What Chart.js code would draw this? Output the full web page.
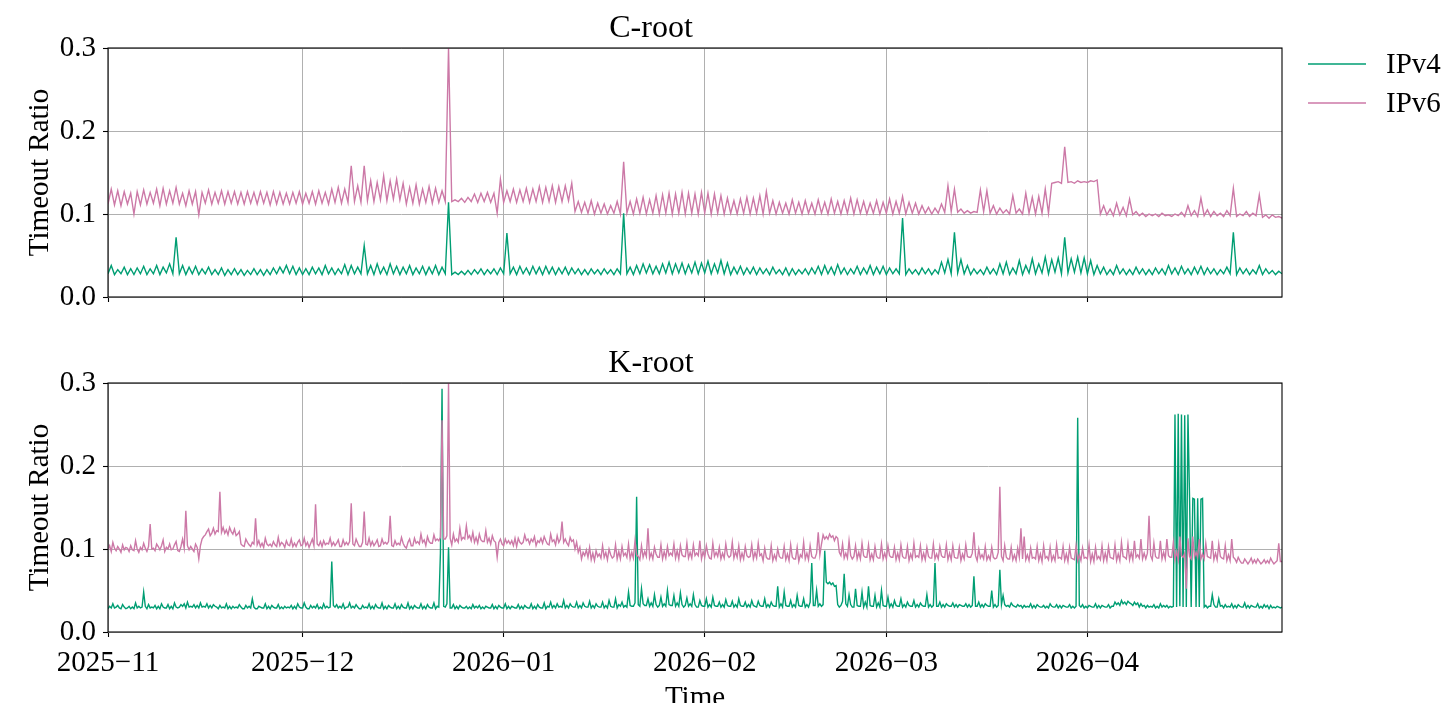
<!DOCTYPE html>
<html>
<head>
<meta charset="utf-8">
<script src="https://cdn.jsdelivr.net/npm/chart.js@4.4.1/dist/chart.umd.min.js"></script>
<style>
  html, body { margin: 0; padding: 0; background: #fff; overflow: hidden; }
  #wrap { position: relative; width: 1452px; height: 703px; }
  canvas { position: absolute; left: 0; }
  #cChart { top: 0; }
  #kChart { top: 335px; }
</style>
</head>
<body>
<div id="wrap">
  <canvas id="cChart" width="1452" height="322"></canvas>
  <canvas id="kChart" width="1452" height="381"></canvas>
</div>
<script>
// ==========================================
// DATA (timeout ratio x1000, sampled from 2025-11-01)
// ==========================================

const cSamplesPerDay = 2;
const kSamplesPerDay = 4;
const monthStarts = [0, 30, 61, 92, 120, 151];
const monthLabels = ['2025\u221211', '2025\u221212', '2026\u221201', '2026\u221202', '2026\u221203', '2026\u221204'];
const yTicks = [0, 0.1, 0.2, 0.3];
const seriesNames = ['IPv4', 'IPv6'];

// C-root, 2 samples a day
const cRootV4 = [
  28,38,27,33,28,36,27,34,27,35,28,37,27,34,28,38,27,36,29,40,
  28,72,28,38,27,36,28,37,27,34,28,36,27,33,27,35,26,33,27,34,
  27,33,26,32,27,34,27,33,26,33,27,35,28,36,29,38,28,37,27,35,
  27,34,27,36,28,35,27,38,28,35,27,34,28,39,27,38,28,36,28,62,
  28,38,27,40,28,36,27,40,28,37,27,36,28,38,27,35,28,37,27,36,
  28,38,27,36,28,114,27,30,27,31,27,32,27,33,28,34,27,33,28,34,
  27,35,28,77,28,36,27,37,28,35,27,37,28,36,27,37,28,36,27,35,
  28,36,27,35,28,34,27,33,27,34,28,33,27,34,28,33,27,34,28,101,
  28,36,27,38,28,40,29,39,28,37,28,40,29,42,28,40,29,41,28,39,
  29,42,28,41,29,43,28,40,29,44,28,41,27,36,28,37,27,35,28,36,
  27,35,28,34,27,36,28,33,27,35,26,34,27,33,28,34,27,35,28,37,
  27,38,28,36,27,39,28,35,27,34,28,37,27,35,28,38,27,36,28,37,
  27,35,28,34,28,95,27,34,28,33,27,35,28,34,27,33,28,42,29,45,
  28,78,29,45,28,38,27,34,28,33,27,36,28,34,27,40,28,42,27,35,
  28,44,27,38,29,46,28,40,29,48,28,45,30,47,28,72,29,46,30,48,
  29,47,28,44,27,38,28,36,27,33,27,38,28,34,27,33,27,36,28,34,
  27,33,27,35,28,34,27,38,28,35,27,37,28,34,27,36,28,37,27,35,
  28,34,27,33,28,36,28,78,27,35,28,34,27,33,28,38,27,34,28,32,27,31,28
];

const cRootV6 = [
  112,130,111,128,110,127,112,125,100,127,111,129,112,126,113,130,110,131,112,128,
  113,132,112,125,110,128,112,127,99,126,113,129,112,126,113,128,112,127,113,127,
  112,126,112,127,113,126,112,127,113,126,111,127,112,126,112,125,112,126,113,127,
  112,125,113,127,112,128,113,126,112,130,114,132,113,130,114,158,115,134,114,158,
  116,140,115,138,117,146,116,140,118,142,117,137,112,132,113,135,112,130,114,133,
  113,131,114,128,115,300,115,117,115,119,114,120,115,124,114,125,115,126,114,125,
  101,142,114,128,115,130,114,129,115,131,114,130,115,133,114,132,115,134,114,133,
  115,134,116,137,103,115,102,114,101,116,100,113,101,112,100,110,101,115,100,163,
  101,115,100,118,101,120,100,117,101,122,100,123,101,125,100,124,101,126,100,125,
  101,124,100,126,101,125,100,124,101,122,100,119,101,116,100,118,101,120,100,119,
  101,122,100,127,101,116,100,114,101,113,100,117,101,114,100,116,101,113,100,117,
  101,114,100,118,101,115,100,116,101,119,100,117,101,115,100,113,101,116,100,114,
  101,118,100,115,101,121,100,114,101,113,100,110,101,108,100,107,101,112,102,134,
  103,130,102,106,101,104,101,103,102,129,103,128,101,110,100,107,101,105,100,122,
  101,106,100,125,101,120,100,121,101,130,101,137,138,139,137,181,138,139,137,140,
  138,139,138,140,139,141,100,110,99,106,98,113,99,108,98,118,99,103,98,101,
  97,100,98,100,97,101,98,99,97,100,98,102,97,110,98,104,97,119,98,105,
  97,103,98,101,97,104,98,131,97,100,98,103,97,101,98,123,96,99,95,99,96,97,95
];

// K-root, 4 samples a day
const kRootV4 = [
  28,31,29,34, 29,30,32,29, 28,33,30,28, 29,31,28,30, 28,35,29,31,
  29,30,48,31, 28,33,29,30, 29,32,28,31, 28,34,30,29, 29,33,28,31,
  28,35,30,29, 30,33,31,34, 29,36,30,31, 30,33,29,32, 29,35,30,31,
  30,34,29,32, 29,33,31,30, 28,32,29,30, 29,34,28,31, 28,31,29,30,
  29,33,30,28, 28,32,29,31, 29,40,30,28, 28,31,30,29, 29,34,28,31,
  28,32,30,29, 29,33,28,30, 28,31,29,30, 29,32,28,31, 28,34,30,29,
  29,35,30,28, 28,32,29,31, 29,33,28,30, 28,34,29,31, 29,30,85,32,
  30,33,29,31, 29,34,28,30, 30,35,29,31, 29,33,30,28, 28,32,29,30,
  29,34,28,31, 28,33,30,29, 29,35,28,31, 28,32,30,29, 29,34,28,31,
  28,33,30,29, 29,35,28,31, 28,32,30,29, 29,34,28,31, 28,33,30,29,
  29,35,28,31, 30,95,293,31, 30,34,102,29, 29,33,28,31, 28,32,30,29,
  29,31,28,30, 28,33,29,31, 29,32,28,30, 28,31,30,29, 29,33,28,31,
  28,32,30,29, 29,34,28,31, 28,31,30,29, 29,33,28,31, 28,32,30,29,
  29,34,28,31, 28,33,30,29, 29,35,28,31, 30,36,29,32, 29,34,30,31,
  30,38,29,32, 29,34,31,30, 30,36,29,32, 29,35,31,30, 30,37,29,32,
  29,34,31,30, 30,36,29,32, 29,38,31,30, 30,40,29,33, 31,36,30,32,
  30,48,32,31, 31,35,163,33, 31,52,34,32, 32,40,31,35, 31,45,33,30,
  32,42,31,34, 31,50,33,32, 32,44,31,35, 31,47,33,30, 32,41,31,34,
  31,45,33,30, 30,38,32,31, 31,40,30,33, 30,42,32,31, 31,36,30,33,
  30,39,32,31, 31,37,30,33, 30,40,32,31, 31,36,30,33, 30,38,32,31,
  30,37,32,31, 31,40,30,33, 30,36,32,31, 31,55,30,34, 30,48,32,31,
  31,38,30,33, 30,44,32,31, 31,40,30,33, 30,36,83,32, 32,50,31,34,
  31,33,98,60, 58,60,57,59, 55,56,33,30, 32,37,70,34, 31,45,33,30,
  30,52,32,31, 31,48,30,36, 30,55,32,31, 31,44,30,35, 30,50,32,31,
  31,42,30,34, 30,38,32,31, 31,40,30,33, 30,36,32,31, 31,38,30,33,
  30,35,32,31, 31,45,30,33, 30,32,83,31, 31,36,30,33, 30,34,32,31,
  31,35,30,33, 30,33,32,31, 31,34,30,33, 30,32,67,31, 31,36,30,33,
  30,34,32,31, 31,50,30,33, 30,32,75,33, 44,33,31,32, 30,35,32,31,
  30,33,31,32, 29,32,30,31, 30,34,29,32, 29,33,31,30, 30,32,29,31,
  29,34,31,30, 30,33,29,32, 29,32,31,30, 30,33,29,31, 29,31,258,32,
  30,33,29,31, 29,32,31,30, 30,34,29,32, 29,32,31,30, 30,33,29,31,
  31,36,33,35, 32,38,34,36, 33,37,35,34, 32,36,33,35, 30,34,31,32,
  29,32,30,31, 30,33,29,31, 29,34,30,32, 30,32,29,31, 30,31,262,30,
  263,31,262,30, 261,30,262,161, 30,161,160,30, 161,30,160,161, 30,32,29,31,
  31,45,33,30, 30,40,31,32, 29,33,30,31, 30,34,29,32, 29,33,31,30,
  30,35,29,32, 29,32,31,30, 30,34,29,31, 29,33,30,32, 28,32,29,30,
  29,31,30,29, 30
];

const kRootV6 = [
  99,104,97,108, 101,98,103,100, 96,105,99,102, 101,97,104,99, 98,110,100,96,
  102,99,107,101, 97,103,130,100, 101,98,106,103, 99,104,111,97, 102,100,106,99,
  100,105,109,98, 97,103,112,101, 146,104,99,103, 100,97,106,102, 88,104,112,115,
  117,121,124,116, 119,125,118,122, 121,169,120,126, 119,123,117,126, 121,118,124,116,
  118,121,106,104, 103,112,108,105, 103,108,106,137, 105,110,103,107, 102,113,106,104,
  106,103,109,105, 103,114,104,108, 106,102,110,105, 104,112,103,107, 103,108,111,104,
  105,113,104,108, 102,107,112,104, 154,106,104,109, 103,110,105,107, 106,113,104,108,
  104,107,111,103, 103,111,105,108, 105,109,155,106, 104,112,107,103, 103,108,145,106,
  105,113,104,109, 104,107,111,103, 104,112,106,108, 106,109,140,104, 103,110,105,107,
  105,114,107,103, 101,108,112,104, 104,113,107,109, 106,118,108,111, 104,115,109,107,
  107,117,110,112, 110,114,255,112, 112,116,300,113, 105,118,109,112, 108,125,111,114,
  112,128,113,116, 110,120,108,114, 107,118,111,109, 109,122,108,113, 106,116,110,108,
  90,108,112,106, 104,112,107,110, 106,110,104,113, 103,113,108,106, 108,117,110,112,
  106,112,109,115, 104,110,108,113, 107,115,110,106, 105,118,109,111, 105,116,108,112,
  133,108,112,107, 104,114,109,111, 100,108,96,102, 88,96,92,99, 90,102,87,95,
  86,98,91,94, 89,104,90,96, 87,100,93,89, 91,105,88,97, 88,103,92,95,
  90,106,88,96, 89,110,93,91, 87,104,90,97, 91,125,89,95, 88,102,94,90,
  90,105,88,97, 89,103,92,95, 92,106,89,98, 88,104,93,91, 91,107,89,96,
  89,105,92,95, 92,110,88,97, 90,104,94,89, 88,107,91,96, 91,102,88,95,
  89,106,93,90, 92,108,89,97, 90,104,87,95, 88,103,92,90, 91,105,88,96,
  89,107,92,94, 86,101,90,88, 88,104,86,93, 87,100,91,89, 89,103,87,94,
  86,105,90,88, 88,102,85,93, 90,108,88,95, 87,104,91,89, 89,95,120,93,
  106,117,112,115, 112,118,114,116, 110,115,113,96, 92,106,89,95, 89,110,92,88,
  91,104,88,96, 88,107,92,90, 90,105,87,94, 87,103,91,89, 89,106,88,95,
  88,104,92,90, 90,102,87,95, 87,105,91,89, 89,103,86,94, 88,107,90,92,
  90,104,87,95, 87,102,91,89, 89,106,88,94, 88,103,92,90, 90,105,87,95,
  87,104,90,89, 89,102,86,94, 88,105,91,90, 90,95,120,92, 86,100,89,93,
  88,103,87,92, 87,102,90,88, 89,96,175,91, 86,104,90,88, 88,102,87,93,
  86,101,90,125, 88,115,87,93, 86,101,89,90, 88,103,86,94, 85,104,89,91,
  87,102,86,92, 86,105,89,90, 88,103,86,94, 85,102,89,88, 87,104,86,93,
  86,101,89,90, 88,105,85,94, 85,102,88,91, 87,104,86,95, 86,103,90,89,
  88,105,86,94, 86,108,91,90, 88,106,87,96, 87,110,90,93, 89,112,88,95,
  88,95,140,92, 87,107,91,89, 89,110,88,96, 88,112,92,90, 90,108,87,97,
  87,115,92,90, 95,52,113,91, 88,115,90,96, 90,112,88,94, 88,107,91,90,
  89,110,87,95, 87,106,91,89, 88,104,86,93, 86,112,90,88, 84,90,86,83,
  83,88,85,82, 85,89,83,87, 83,88,85,82, 84,87,83,86, 83,89,85,82,
  84,86,107,85, 85
];

// ==========================================
// STYLE
// ==========================================

const GREEN = '#009e73';
const PINK = '#cc79a7';
const FONT = "'Liberation Serif', 'Times New Roman', serif";
const AREA_LEFT = 108;
const AREA_RIGHT = 1282;
const AREA_BOTTOM = 297;   // inside each canvas

function toPoints(values, perDay) {
  return values.map((v, i) => ({ x: i / perDay, y: v / 1000 }));
}

// black frame round the plot area, like matplotlib spines
const framePlugin = {
  id: 'frame',
  afterDraw(chart) {
    const { ctx, chartArea: a } = chart;
    ctx.save();
    ctx.strokeStyle = '#000';
    ctx.lineWidth = 1.1;
    ctx.strokeRect(a.left, a.top, a.right - a.left, a.bottom - a.top);
    ctx.restore();
  }
};

// legend outside the axes, top right
const sideLegend = {
  id: 'sideLegend',
  afterDraw(chart, args, opts) {
    if (!opts.show) return;
    const ctx = chart.ctx;
    ctx.save();
    chart.data.datasets.forEach((ds, i) => {
      const y = 64 + i * 39;
      ctx.strokeStyle = ds.borderColor;
      ctx.lineWidth = 1.4;
      ctx.beginPath();
      ctx.moveTo(1308, y);
      ctx.lineTo(1366, y);
      ctx.stroke();
      ctx.fillStyle = '#000';
      ctx.font = `29px ${FONT}`;
      ctx.textBaseline = 'middle';
      ctx.fillText(ds.label, 1386, y + 1);
    });
    ctx.restore();
  }
};

function makeChart(id, title, v4, v6, perDay, isBottom) {
  const ctx = document.getElementById(id).getContext('2d');
  const canvasHeight = ctx.canvas.height;

  return new Chart(ctx, {
    type: 'line',
    data: {
      datasets: [
        {
          label: seriesNames[0],
          data: toPoints(v4, perDay),
          borderColor: GREEN,
          borderWidth: 1.4,
          pointRadius: 0,
          order: 1
        },
        {
          label: seriesNames[1],
          data: toPoints(v6, perDay),
          borderColor: PINK,
          borderWidth: 1.4,
          pointRadius: 0,
          order: 0
        }
      ]
    },
    options: {
      responsive: false,
      animation: false,
      events: [],
      layout: { padding: { left: 20, right: 1452 - AREA_RIGHT, top: 0, bottom: 0 } },
      plugins: {
        legend: { display: false },
        tooltip: { enabled: false },
        title: {
          display: true,
          text: title,
          color: '#000',
          font: { family: FONT, size: 32, weight: 'normal', lineHeight: 1.15 },
          padding: { top: 10, bottom: 1.2 }
        },
        sideLegend: { show: !isBottom }
      },
      scales: {
        x: {
          type: 'linear',
          min: 0,
          max: 181,
          afterBuildTicks: (scale) => {
            scale.ticks = monthStarts.map(v => ({ value: v }));
          },
          afterFit: (scale) => {
            scale.height = canvasHeight - AREA_BOTTOM;
          },
          grid: { color: '#b0b0b0', lineWidth: 1, tickColor: '#000', tickLength: 5, tickWidth: 1.1 },
          border: { display: false },
          ticks: {
            display: isBottom,
            autoSkip: false,
            maxRotation: 0,
            padding: 9,
            color: '#000',
            font: { family: FONT, size: 29 },
            callback: (v) => monthLabels[monthStarts.indexOf(v)] || ''
          },
          title: {
            display: isBottom,
            text: 'Time',
            color: '#000',
            font: { family: FONT, size: 29 },
            padding: { top: 0, bottom: 0 }
          }
        },
        y: {
          min: 0,
          max: 0.3,
          afterBuildTicks: (scale) => {
            scale.ticks = yTicks.map(v => ({ value: v }));
          },
          afterFit: (scale) => {
            scale.width = AREA_LEFT - 20;
          },
          grid: { color: '#b0b0b0', lineWidth: 1, tickColor: '#000', tickLength: 5, tickWidth: 1.1 },
          border: { display: false },
          ticks: {
            padding: 7,
            color: '#000',
            font: { family: FONT, size: 29 },
            callback: (v) => v.toFixed(1)
          },
          title: {
            display: true,
            text: 'Timeout Ratio',
            color: '#000',
            font: { family: FONT, size: 29 },
            padding: { top: 3, bottom: 0 }
          }
        }
      }
    },
    plugins: [framePlugin, sideLegend]
  });
}

makeChart('cChart', 'C-root', cRootV4, cRootV6, cSamplesPerDay, false);
makeChart('kChart', 'K-root', kRootV4, kRootV6, kSamplesPerDay, true);
</script>
</body>
</html>
